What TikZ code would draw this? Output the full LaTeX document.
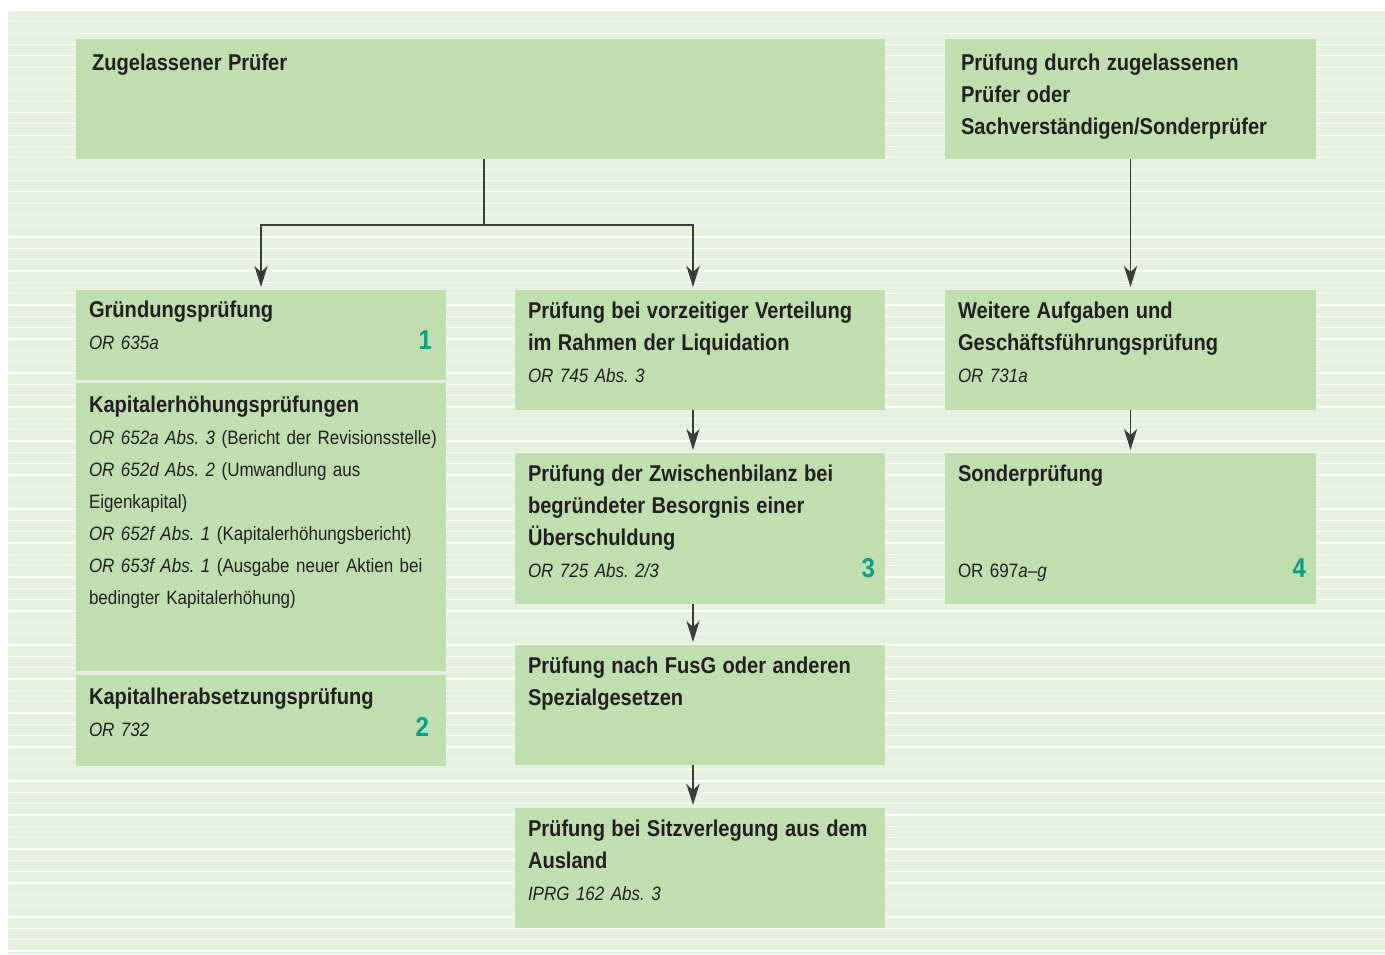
\documentclass[tikz,border=0pt]{standalone}
\usepackage{fontspec}
\setmainfont{Liberation Sans}[FakeStretch=0.88]
\usepackage{tikz}
\usetikzlibrary{arrows.meta,positioning,calc,fit}
\usepackage{xcolor}

\definecolor{grund}{RGB}{230,241,224}
\definecolor{kasten}{RGB}{192,223,175}
\definecolor{tinte}{RGB}{35,31,32}
\definecolor{petrol}{RGB}{0,160,138}
\definecolor{linie}{RGB}{60,60,60}

\newcommand\titel[1]{{\fontsize{13}{18.2}\selectfont\bfseries #1}}

\tikzset{
    kasten/.style={fill=kasten, draw=none, inner sep=0pt},
    txt/.style={anchor=base west, inner sep=0pt, text width=9cm, align=left,
        text=tinte, font=\fontsize{11}{18.2}\selectfont\frenchspacing},
    nummer/.style={anchor=base east, inner sep=0pt, text=petrol,
        font=\fontsize{15.5}{18}\selectfont\bfseries},
    pfeil/.style={draw=linie, line width=0.8pt,
        -{Stealth[length=12pt, width=7.5pt, inset=3.5pt]}, shorten >=1.5pt},
    strich/.style={draw=linie, line width=0.8pt},
}

\begin{document}
\begin{tikzpicture}[x=0.02cm, y=-0.02cm]
    \useasboundingbox (0,0) rectangle (1385,954);

    % Hintergrund mit Linien
    \fill[grund] (8,10) rectangle (1385,954);
    \foreach \i in {0,...,83}
        \draw[white, line width=0.7pt] (8,{10.5+\i*11.33}) -- (1385,{10.5+\i*11.33});

    % obere Kaesten
    \node[kasten, fit={(76,39) (885,159)}] (zugel) {};
    \node[kasten, fit={(945,39) (1316,159)}] (sonderp) {};

    % linke Spalte
    \node[kasten, fit={(76,290) (446,380)}] (gruend) {};
    \node[kasten, fit={(76,383) (446,671)}] (kaperh) {};
    \node[kasten, fit={(76,675) (446,766)}] (kapher) {};

    % mittlere Spalte
    \node[kasten, fit={(515,290) (885,410)}] (vorz) {};
    \node[kasten, fit={(515,453) (885,604)}] (zwisch) {};
    \node[kasten, fit={(515,645) (885,765)}] (fusg) {};
    \node[kasten, fit={(515,808) (885,928)}] (sitz) {};

    % rechte Spalte
    \node[kasten, fit={(945,290) (1316,410)}] (weitere) {};
    \node[kasten, fit={(945,453) (1316,604)}] (sonder) {};

    % Texte
    \node[txt] (zugelT) at ([shift={(16,32)}]zugel.north west) {\titel{Zugelassener Prüfer}};
    \node[txt] (sonderpT) at ([shift={(16,32)}]sonderp.north west)
        {\titel{Prüfung durch zugelassenen\\ Prüfer oder\\ Sachverständigen/Sonderprüfer}};

    \node[txt] (gruendT) at ([shift={(13,28)}]gruend.north west)
        {\titel{Gründungsprüfung}\\ \textit{OR 635a}};
    \node[txt] (kaperhT) at ([shift={(13,30)}]kaperh.north west)
        {\titel{Kapitalerhöhungsprüfungen}\\
         \textit{OR 652a Abs. 3} (Bericht der Revisionsstelle)\\
         \textit{OR 652d Abs. 2} (Umwandlung aus\\
         Eigenkapital)\\
         \textit{OR 652f Abs. 1} (Kapitalerhöhungsbericht)\\
         \textit{OR 653f Abs. 1} (Ausgabe neuer Aktien bei\\
         bedingter Kapitalerhöhung)};
    \node[txt] (kapherT) at ([shift={(13,30)}]kapher.north west)
        {\titel{Kapitalherabsetzungsprüfung}\\ \textit{OR 732}};

    \node[txt] (vorzT) at ([shift={(13,29)}]vorz.north west)
        {\titel{Prüfung bei vorzeitiger Verteilung\\ im Rahmen der Liquidation}\\
         \textit{OR 745 Abs. 3}};
    \node[txt] (zwischT) at ([shift={(13,29)}]zwisch.north west)
        {\titel{Prüfung der Zwischenbilanz bei\\ begründeter Besorgnis einer\\ Überschuldung}\\
         \textit{OR 725 Abs. 2/3}};
    \node[txt] (fusgT) at ([shift={(13,29)}]fusg.north west)
        {\titel{Prüfung nach FusG oder anderen\\ Spezialgesetzen}};
    \node[txt] (sitzT) at ([shift={(13,29)}]sitz.north west)
        {\titel{Prüfung bei Sitzverlegung aus dem\\ Ausland}\\
         \textit{IPRG 162 Abs. 3}};

    \node[txt] (weitereT) at ([shift={(13,29)}]weitere.north west)
        {\titel{Weitere Aufgaben und\\ Geschäftsführungsprüfung}\\
         \textit{OR 731a}};
    \node[txt] (sonderT) at ([shift={(13,29)}]sonder.north west)
        {\titel{Sonderprüfung}\\[36.4pt] OR 697\textit{a–g}};

    % Nummern
    \node[nummer] (n1) at ([shift={(-14,60)}]gruend.north east) {1};
    \node[nummer] (n2) at ([shift={(-17,62)}]kapher.north east) {2};
    \node[nummer] (n3) at ([shift={(-10,125)}]zwisch.north east) {3};
    \node[nummer] (n4) at ([shift={(-10,125)}]sonder.north east) {4};

    % Verbindungen
    \coordinate (teil) at (484,225);
    \draw[strich] (zugel.south -| teil) -- (teil);
    \draw[pfeil] (teil) -| (gruend.north);
    \draw[pfeil] (teil) -| ([xshift=-4]vorz.north);
    \draw[pfeil] (sonderp) -- (weitere);
    \draw[pfeil] ([xshift=-4]vorz.south) -- ([xshift=-4]zwisch.north);
    \draw[pfeil] ([xshift=-4]zwisch.south) -- ([xshift=-4]fusg.north);
    \draw[pfeil] ([xshift=-4]fusg.south) -- ([xshift=-4]sitz.north);
    \draw[pfeil] (weitere) -- (sonder);
\end{tikzpicture}
\end{document}
